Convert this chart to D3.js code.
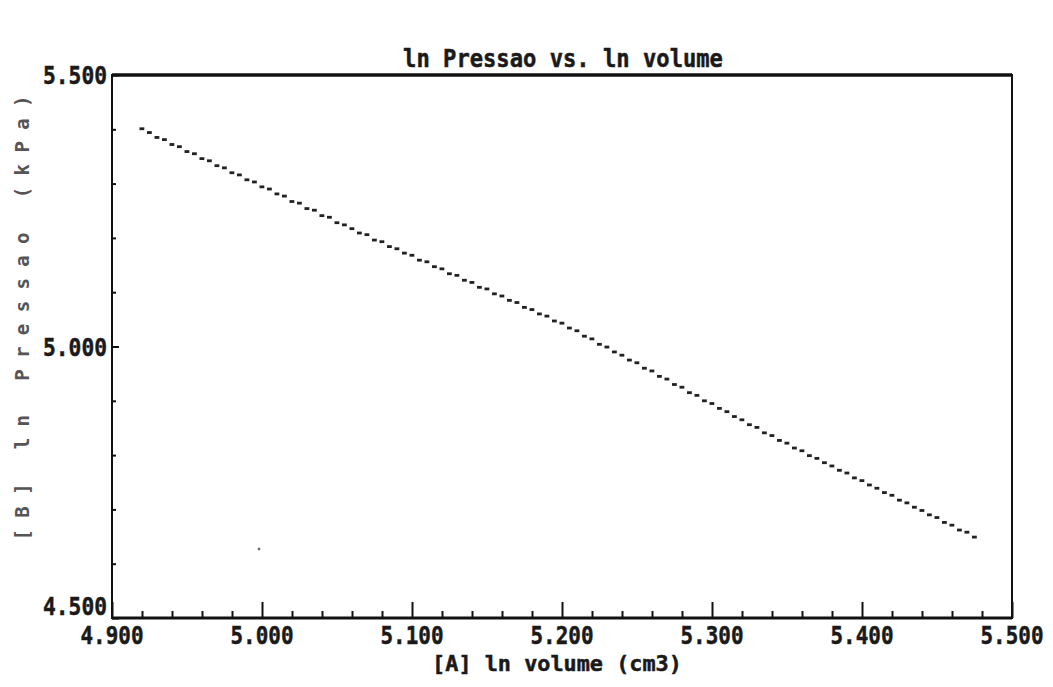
<!DOCTYPE html>
<html>
<head>
<meta charset="utf-8">
<script src="https://cdn.jsdelivr.net/npm/d3@7"></script>
<style>
  html, body { margin: 0; padding: 0; background: #ffffff; }
  svg { display: block; }
</style>
</head>
<body>
<script>
// ---- data ----
const title = "ln Pressao vs. ln volume";
const xLabel = "[A] ln volume (cm3)";
const yLabel = "[B] ln Pressao (kPa)";

const xTickValues = [4.9, 5.0, 5.1, 5.2, 5.3, 5.4, 5.5];
const xTickLabels = ["4.900", "5.000", "5.100", "5.200", "5.300", "5.400", "5.500"];
const yTickValues = [4.5, 5.0, 5.5];
const yTickLabels = ["4.500", "5.000", "5.500"];

const lnVolume = [
  4.920, 4.925, 4.930, 4.935, 4.940, 4.945, 4.950, 4.955, 4.960, 4.965,
  4.970, 4.975, 4.980, 4.985, 4.990, 4.995, 5.000, 5.005, 5.010, 5.015,
  5.020, 5.025, 5.030, 5.035, 5.040, 5.045, 5.050, 5.055, 5.060, 5.065,
  5.070, 5.075, 5.080, 5.085, 5.090, 5.095, 5.100, 5.105, 5.110, 5.115,
  5.120, 5.125, 5.130, 5.135, 5.140, 5.145, 5.150, 5.155, 5.160, 5.165,
  5.170, 5.175, 5.180, 5.185, 5.190, 5.195, 5.200, 5.205, 5.210, 5.215,
  5.220, 5.225, 5.230, 5.235, 5.240, 5.245, 5.250, 5.255, 5.260, 5.265,
  5.270, 5.275, 5.280, 5.285, 5.290, 5.295, 5.300, 5.305, 5.310, 5.315,
  5.320, 5.325, 5.330, 5.335, 5.340, 5.345, 5.350, 5.355, 5.360, 5.365,
  5.370, 5.375, 5.380, 5.385, 5.390, 5.395, 5.400, 5.405, 5.410, 5.415,
  5.420, 5.425, 5.430, 5.435, 5.440, 5.445, 5.450, 5.455, 5.460, 5.465,
  5.470, 5.475
];
const lnPressure = [
  5.401, 5.394, 5.385, 5.381, 5.372, 5.368, 5.359, 5.355, 5.346, 5.342,
  5.333, 5.329, 5.320, 5.316, 5.307, 5.303, 5.294, 5.290, 5.281, 5.277,
  5.267, 5.264, 5.254, 5.251, 5.241, 5.238, 5.228, 5.224, 5.217, 5.209,
  5.206, 5.196, 5.193, 5.184, 5.180, 5.172, 5.168, 5.159, 5.156, 5.147,
  5.143, 5.134, 5.131, 5.122, 5.118, 5.109, 5.106, 5.097, 5.093, 5.085,
  5.081, 5.072, 5.068, 5.060, 5.056, 5.047, 5.043, 5.034, 5.029, 5.019,
  5.014, 5.004, 4.999, 4.990, 4.984, 4.975, 4.970, 4.960, 4.955, 4.945,
  4.940, 4.930, 4.925, 4.915, 4.910, 4.900, 4.895, 4.886, 4.880, 4.871,
  4.865, 4.856, 4.851, 4.841, 4.836, 4.827, 4.822, 4.813, 4.808, 4.799,
  4.794, 4.786, 4.780, 4.772, 4.767, 4.758, 4.753, 4.745, 4.739, 4.731,
  4.726, 4.717, 4.712, 4.704, 4.698, 4.690, 4.685, 4.676, 4.671, 4.662,
  4.658, 4.649
];
const strayVolume = [4.998];
const strayPressure = [4.627];

// ---- layout ----
const W = 1053, H = 687;
const L = 112, R = 1012, T = 75, B = 618;
const FONT = "'DejaVu Sans Mono', 'Liberation Mono', monospace";
const INK = "#1a1a1a";
const CHAR_W = 0.6021; // DejaVu Sans Mono advance, in em

const svg = d3.select("body").append("svg")
  .attr("width", W).attr("height", H)
  .style("background", "#ffffff");

const x = d3.scaleLinear().domain([4.9, 5.5]).range([L, R]);
const y = d3.scaleLinear().domain([4.5, 5.5]).range([B, T]);

const minorX = d3.range(0, 31).map(i => +(4.9 + i * 0.02).toFixed(2))
  .filter(v => !xTickValues.some(m => Math.abs(m - v) < 1e-9));
const minorY = d3.range(0, 11).map(i => +(4.5 + i * 0.1).toFixed(1))
  .filter(v => !yTickValues.some(m => Math.abs(m - v) < 1e-9));

// x axis ticks (pointing up, inside)
const gx = svg.append("g").attr("transform", `translate(0,${B})`);
gx.append("g").call(d3.axisBottom(x).tickValues(minorX).tickSize(-7).tickFormat(""));
gx.append("g").call(d3.axisBottom(x).tickValues(xTickValues).tickSize(-16).tickFormat(""));
gx.selectAll(".domain").remove();
gx.selectAll("line").attr("stroke", "#111").attr("stroke-width", 2);

// y axis ticks (pointing right, inside)
const gy = svg.append("g").attr("transform", `translate(${L},0)`);
gy.append("g").call(d3.axisLeft(y).tickValues(minorY).tickSize(-4).tickFormat(""));
gy.append("g").call(d3.axisLeft(y).tickValues(yTickValues).tickSize(-7).tickFormat(""));
gy.selectAll(".domain").remove();
gy.selectAll("line").attr("stroke", "#111").attr("stroke-width", 2);

// frame
svg.append("rect")
  .attr("x", L).attr("y", T).attr("width", R - L).attr("height", B - T)
  .attr("fill", "none").attr("stroke", "#111").attr("stroke-width", 2);
svg.append("line")
  .attr("x1", L).attr("x2", R).attr("y1", T).attr("y2", T)
  .attr("stroke", "#111").attr("stroke-width", 3.5);
svg.append("line")
  .attr("x1", L).attr("x2", R).attr("y1", B).attr("y2", B)
  .attr("stroke", "#111").attr("stroke-width", 3);

// condensed bold text: horizontally scaled to a target width
function condensed(parent, str, px, py, size, width, anchor) {
  const natural = str.length * CHAR_W * size;
  const sx = width / natural;
  return parent.append("text")
    .attr("transform", `translate(${px},${py}) scale(${sx},1)`)
    .attr("text-anchor", anchor)
    .attr("font-family", FONT).attr("font-weight", "bold")
    .attr("font-size", size).attr("fill", INK)
    .attr("stroke", INK).attr("stroke-width", 0.5)
    .text(str);
}

// x tick labels
const gxl = svg.append("g");
xTickValues.forEach((v, i) => condensed(gxl, xTickLabels[i], x(v), B + 26, 25, 63, "middle"));

// y tick labels (lowest one lifted to clear the x labels)
const gyl = svg.append("g");
yTickValues.forEach((v, i) =>
  condensed(gyl, yTickLabels[i], L - 5, i === 0 ? y(v) - 3 : y(v) + 9, 25, 64, "end"));

// title
condensed(svg, title, 563, 67, 25, 320, "middle");

// x axis label
condensed(svg, xLabel, 557, 671, 22, 250, "middle");

// y axis label
svg.append("text")
  .attr("transform", `translate(29,318) rotate(-90)`)
  .attr("text-anchor", "middle")
  .attr("font-family", FONT).attr("font-weight", "bold").attr("font-size", 19)
  .attr("textLength", 445).attr("lengthAdjust", "spacing")
  .attr("fill", "#555")
  .text(yLabel);

// data points
const pts = lnVolume.map((v, i) => ({ v, p: lnPressure[i] }));
svg.append("g").selectAll("rect")
  .data(pts)
  .join("rect")
  .attr("x", d => x(d.v) - 2.5)
  .attr("y", d => y(d.p) - 1.4)
  .attr("width", 4.8).attr("height", 2.8)
  .attr("fill", "#222");

const stray = strayVolume.map((v, i) => ({ v, p: strayPressure[i] }));
svg.append("g").selectAll("rect")
  .data(stray)
  .join("rect")
  .attr("x", d => x(d.v) - 1.2)
  .attr("y", d => y(d.p) - 1.2)
  .attr("width", 2.4).attr("height", 2.4)
  .attr("fill", "#666");
</script>
</body>
</html>
